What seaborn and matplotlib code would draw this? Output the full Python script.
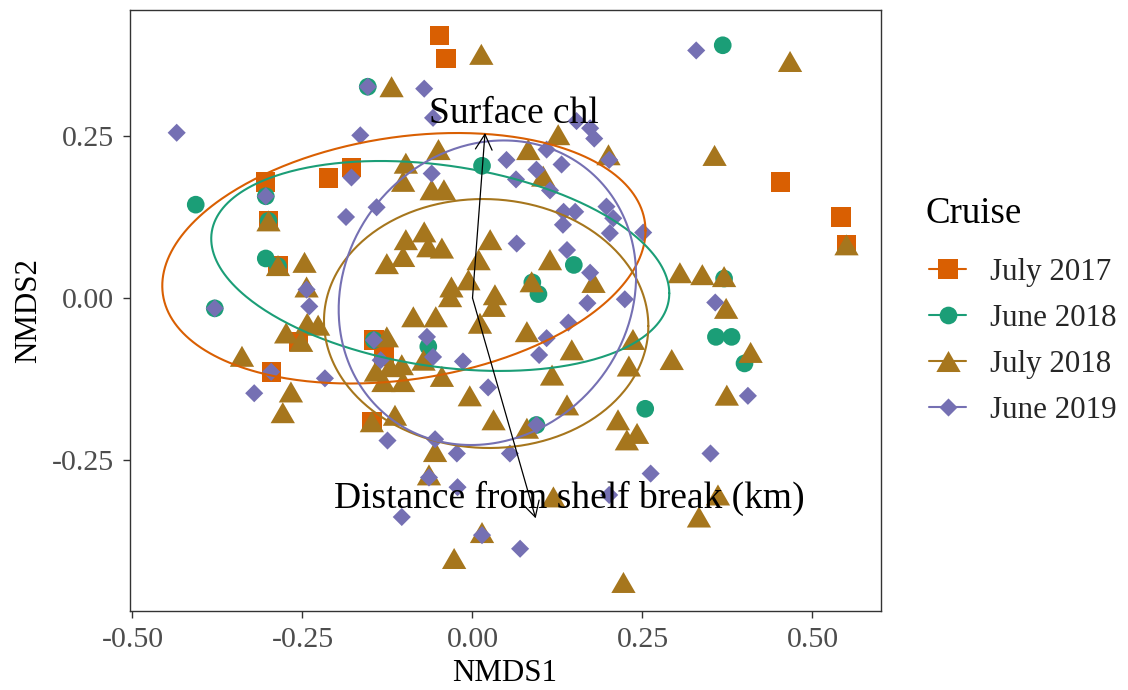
import numpy as np
import pandas as pd
import matplotlib
matplotlib.use("Agg")
import matplotlib.pyplot as plt
from matplotlib.lines import Line2D
import seaborn as sns

sns.set_theme(style="white")
plt.rcParams["font.family"] = ["Liberation Serif", "DejaVu Serif"]

# ---- NMDS site scores by cruise ----
jul17_x = [-0.049, -0.039, -0.178, -0.212, -0.304, -0.300, -0.286, -0.256, -0.296,
           -0.145, -0.130, -0.148, 0.453, 0.542, 0.550]
jul17_y = [0.405, 0.370, 0.201, 0.185, 0.179, 0.119, 0.050, -0.067, -0.114,
           -0.065, -0.090, -0.191, 0.179, 0.125, 0.082]

jun18_x = [-0.154, -0.407, -0.304, -0.300, -0.304, -0.286, -0.379, -0.145, -0.065, 0.014,
           0.149, 0.088, 0.097, 0.368, 0.370, 0.358, 0.381, 0.400, 0.254, 0.094]
jun18_y = [0.326, 0.144, 0.157, 0.119, 0.061, 0.049, -0.016, -0.065, -0.075, 0.204,
           0.051, 0.024, 0.006, 0.390, 0.030, -0.060, -0.060, -0.101, -0.171, -0.196]

jul18_x = [0.013, -0.119, -0.050, -0.098, -0.102, -0.060, -0.042, 0.082, 0.126, 0.200,
           0.104, -0.300, -0.286, -0.247, -0.244, -0.243, -0.227, -0.274, -0.252, -0.339,
           -0.267, -0.279, -0.142, -0.148, -0.098, -0.071, -0.045, -0.065, -0.102, -0.126,
           0.026, 0.009, -0.006, -0.031, -0.033, 0.033, 0.031, -0.087, -0.054, 0.011,
           0.114, 0.087, 0.178, 0.080, 0.146, 0.117, -0.004, 0.139, -0.121, -0.104,
           -0.072, -0.045, -0.131, -0.102, -0.126, 0.230, 0.236, 0.305, 0.338, 0.370,
           0.373, 0.409, 0.293, 0.374, 0.467, 0.356, 0.550, 0.242, 0.361, 0.333,
           0.222, -0.114, 0.031, 0.080, 0.214, 0.227, -0.055, -0.064, 0.119, 0.014,
           -0.027]
jul18_y = [0.376, 0.326, 0.229, 0.208, 0.180, 0.167, 0.167, 0.229, 0.252, 0.221,
           0.188, 0.119, 0.050, 0.055, 0.017, -0.039, -0.042, -0.054, -0.067, -0.090,
           -0.145, -0.177, -0.113, -0.191, 0.090, 0.102, 0.077, 0.079, 0.064, 0.053,
           0.090, 0.059, 0.028, 0.017, 0.002, 0.005, -0.013, -0.029, -0.029, -0.039,
           0.059, 0.025, 0.024, -0.052, -0.080, -0.119, -0.151, -0.165, -0.106, -0.103,
           -0.096, -0.121, -0.129, -0.129, -0.060, -0.105, -0.064, 0.039, 0.036, 0.033,
           -0.016, -0.084, -0.095, -0.150, 0.365, 0.220, 0.082, -0.209, -0.304, -0.338,
           -0.439, -0.181, -0.188, -0.201, -0.188, -0.219, -0.237, -0.273, -0.307, -0.362,
           -0.402]

jun19_x = [-0.154, -0.435, -0.165, -0.178, -0.304, -0.141, -0.186, -0.244, -0.240, -0.379,
           -0.296, -0.217, -0.321, -0.145, -0.135, -0.071, -0.058, -0.060, 0.050, 0.064,
           0.094, 0.131, 0.109, 0.153, 0.173, 0.179, 0.201, 0.114, 0.134, 0.151,
           0.133, 0.197, 0.207, 0.202, 0.065, 0.139, 0.173, 0.169, 0.141, 0.109,
           0.098, -0.067, -0.058, -0.014, 0.023, 0.224, 0.251, 0.357, 0.405, 0.329,
           -0.125, -0.055, -0.023, 0.055, -0.064, -0.022, 0.201, -0.104, 0.014, 0.070,
           0.094, 0.350, 0.262]
jun19_y = [0.326, 0.255, 0.251, 0.186, 0.157, 0.140, 0.125, 0.013, -0.013, -0.016,
           -0.114, -0.124, -0.147, -0.065, -0.096, 0.323, 0.278, 0.192, 0.213, 0.183,
           0.198, 0.206, 0.229, 0.273, 0.262, 0.246, 0.213, 0.166, 0.133, 0.133,
           0.113, 0.141, 0.123, 0.100, 0.084, 0.074, 0.039, -0.008, -0.038, -0.062,
           -0.088, -0.060, -0.091, -0.098, -0.138, -0.002, 0.101, -0.007, -0.151, 0.382,
           -0.220, -0.218, -0.240, -0.240, -0.277, -0.292, -0.304, -0.338, -0.366, -0.387,
           -0.196, -0.240, -0.271]

cruises = ["July 2017", "June 2018", "July 2018", "June 2019"]
colors = ["#D95F02", "#1B9E77", "#A6761D", "#7570B3"]

# ---- 95% ellipses: centre, half-extent in x and y, correlation ----
ell_cx = [-0.1009, -0.0474, 0.0201, 0.0219]
ell_cy = [0.0613, 0.0494, -0.0394, 0.0081]
ell_hx = [0.3553, 0.3368, 0.2385, 0.2187]
ell_hy = [0.1933, 0.1620, 0.1921, 0.2350]
ell_rho = [0.22, -0.26, -0.02, 0.11]

# ---- environmental fit vectors ----
vec_names = ["Surface chl", "Distance from shelf break (km)"]
vec_x = [0.0184, 0.0929]
vec_y = [0.2546, -0.340]
vec_label_x = [0.0607, 0.1426]
vec_label_y = [0.270, -0.3245]

df = pd.concat([
    pd.DataFrame({"NMDS1": jul17_x, "NMDS2": jul17_y, "Cruise": cruises[0]}),
    pd.DataFrame({"NMDS1": jun18_x, "NMDS2": jun18_y, "Cruise": cruises[1]}),
    pd.DataFrame({"NMDS1": jul18_x, "NMDS2": jul18_y, "Cruise": cruises[2]}),
    pd.DataFrame({"NMDS1": jun19_x, "NMDS2": jun19_y, "Cruise": cruises[3]}),
], ignore_index=True)

tri = [(0, 0.866), (-1, -0.866), (1, -0.866), (0, 0.866)]
dia = [(0, 1), (1, 0), (0, -1), (-1, 0), (0, 1)]
marker_map = {cruises[0]: "s", cruises[1]: "o", cruises[2]: tri, cruises[3]: dia}
size_map = {cruises[0]: 193, cruises[1]: 162, cruises[2]: 306, cruises[3]: 170}
palette = dict(zip(cruises, colors))

fig = plt.figure(figsize=(11.28, 6.9), dpi=100)
ax = fig.add_axes([129.5 / 1128, 1 - 610.7 / 690, 751.2 / 1128, 601.2 / 690])

sns.scatterplot(data=df, x="NMDS1", y="NMDS2", hue="Cruise", style="Cruise",
                size="Cruise", hue_order=cruises, style_order=cruises,
                size_order=cruises, palette=palette, markers=marker_map,
                sizes=size_map, linewidth=0, alpha=1, legend=False, ax=ax, zorder=2)

t = np.linspace(0, 2 * np.pi, 400)
for cx, cy, hx, hy, r, c in zip(ell_cx, ell_cy, ell_hx, ell_hy, ell_rho, colors):
    ex = cx + hx * np.cos(t)
    ey = cy + hy * (r * np.cos(t) + np.sqrt(1 - r ** 2) * np.sin(t))
    ax.plot(ex, ey, color=c, lw=1.5, zorder=3)

for name, vx, vy, lx, ly in zip(vec_names, vec_x, vec_y, vec_label_x, vec_label_y):
    ax.annotate("", xy=(vx, vy), xytext=(0, 0),
                arrowprops=dict(arrowstyle="->,head_length=1.1,head_width=0.6",
                                color="black", lw=0.9, shrinkA=0, shrinkB=0,
                                mutation_scale=10),
                zorder=4)
    ax.text(lx, ly, name, ha="center", va="baseline", fontsize=27,
            color="black", zorder=5)

ax.set_xlim(-0.5044, 0.6003)
ax.set_ylim(-0.4826, 0.4452)
ax.set_xticks([-0.50, -0.25, 0.00, 0.25, 0.50])
ax.set_yticks([-0.25, 0.00, 0.25])
ax.set_xticklabels(["-0.50", "-0.25", "0.00", "0.25", "0.50"])
ax.set_yticklabels(["-0.25", "0.00", "0.25"])
ax.tick_params(axis="both", which="major", length=5, width=1.0, color="#333333",
               labelcolor="#4D4D4D", labelsize=21.5, direction="out",
               bottom=True, left=True)
ax.tick_params(axis="x", pad=7)
ax.tick_params(axis="y", pad=6.5)
for sp in ax.spines.values():
    sp.set_color("#333333")
    sp.set_linewidth(1.0)
ax.grid(False)
ax.set_facecolor("white")
ax.set_xlabel("NMDS1", fontsize=22.3, color="black", labelpad=4)
ax.set_ylabel("NMDS2", fontsize=22.3, color="black", labelpad=6)

# legend: title as its own text, keys show line + marker
handles = [Line2D([0], [0], color=c, lw=1.5, marker=marker_map[k],
                  markersize=np.sqrt(size_map[k]), markeredgewidth=0)
           for k, c in zip(cruises, colors)]
leg = ax.legend(handles, cruises, loc="center left",
                bbox_to_anchor=(929 / 1128, 1 - 341.5 / 690),
                bbox_transform=fig.transFigure, frameon=False,
                fontsize=22.3, handlelength=1.2,
                handletextpad=0.78, labelspacing=0.55, borderpad=0,
                borderaxespad=0)
fig.text(925.7 / 1128, 1 - 223.3 / 690, "Cruise", fontsize=26.6,
         ha="left", va="baseline", color="black")

fig.savefig("out.png", dpi=100, facecolor="white")
